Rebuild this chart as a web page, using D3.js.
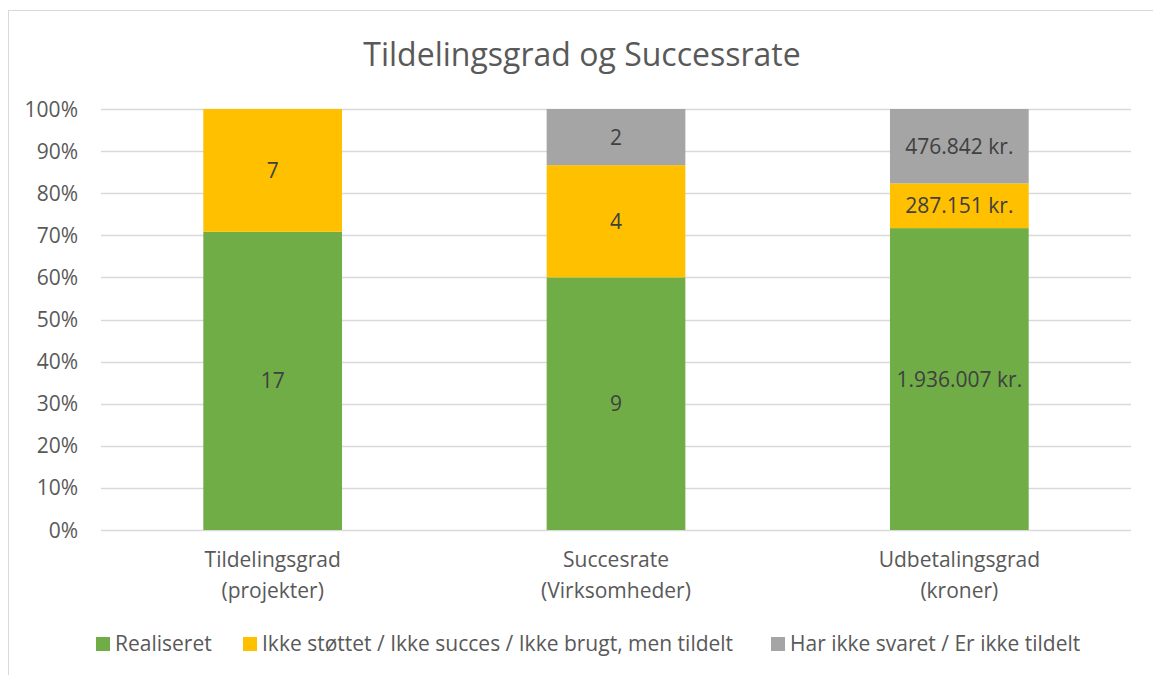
<!DOCTYPE html>
<html><head><meta charset="utf-8">
<script src="https://cdn.jsdelivr.net/npm/d3@7"></script>
<style>
html,body{margin:0;padding:0;background:#fff;}
svg{display:block;font-family:"Open Sans",sans-serif;}
</style></head>
<body>
<svg id="chart" width="1153" height="675"></svg>
<script>
const title = "Tildelingsgrad og Successrate";
const categories = [["Tildelingsgrad","(projekter)"],["Succesrate","(Virksomheder)"],["Udbetalingsgrad","(kroner)"]];
const seriesNames = ["Realiseret","Ikke støttet / Ikke succes / Ikke brugt, men tildelt","Har ikke svaret / Er ikke tildelt"];
const seriesColors = ["#70ad47","#ffc000","#a5a5a5"];
const realiseret = [17, 9, 1936007];
const ikkeStottet = [7, 4, 287151];
const harIkkeSvaret = [0, 2, 476842];
const labelSuffix = ["", "", " kr."];
const yTicks = [0,0.1,0.2,0.3,0.4,0.5,0.6,0.7,0.8,0.9,1.0];

(function(){
const svg = d3.select("#chart");
svg.append("rect").attr("x",8.5).attr("y",10.5).attr("width",1160).attr("height",680)
  .attr("fill","#fff").attr("stroke","#d9d9d9").attr("stroke-width",1);

const pLeft=101, pRight=1131, pTop=109, pBottom=530;
const x = d3.scaleBand().domain(d3.range(categories.length)).range([pLeft,pRight]).paddingInner(0.596).paddingOuter(0.298);
const y = d3.scaleLinear().domain([0,1]).range([pBottom,pTop]);
const fs = "21px";

svg.append("text").attr("x",582).attr("y",66).attr("text-anchor","middle")
  .attr("font-size","32px").attr("fill","#595959").text(title);

svg.append("g").selectAll("line").data(yTicks).join("line")
  .attr("x1",pLeft).attr("x2",pRight).attr("y1",d=>Math.round(y(d))+0.5).attr("y2",d=>Math.round(y(d))+0.5)
  .attr("stroke","#d9d9d9").attr("stroke-width",1.5);

const fmt = d3.format(".0%");
svg.append("g").selectAll("text").data(yTicks).join("text")
  .attr("x",78).attr("y",d=>y(d)+7.5).attr("text-anchor","end")
  .attr("font-size",fs).attr("fill","#595959").text(d=>fmt(d));

const rows = categories.map((c,i)=>({i, s0:realiseret[i], s1:ikkeStottet[i], s2:harIkkeSvaret[i]}));
const stack = d3.stack().keys(["s0","s1","s2"]).offset(d3.stackOffsetExpand);
const layers = stack(rows);

layers.forEach((layer,k)=>{
  const g = svg.append("g");
  layer.forEach((d,i)=>{
    if (d[1]-d[0] <= 0) return;
    g.append("rect").attr("x",x(i)).attr("width",x.bandwidth())
      .attr("y",y(d[1])).attr("height",y(d[0])-y(d[1]))
      .attr("fill",seriesColors[k]);
    const v = d.data[layer.key];
    const txt = d3.format(",")(v).replace(/,/g,".")+labelSuffix[i];
    g.append("text").attr("x",x(i)+x.bandwidth()/2).attr("y",(y(d[0])+y(d[1]))/2+7.5)
      .attr("text-anchor","middle").attr("font-size",fs).attr("fill","#404040").text(txt);
  });
});

categories.forEach((c,i)=>{
  c.forEach((line,j)=>{
    svg.append("text").attr("x",x(i)+x.bandwidth()/2).attr("y",567+j*31)
      .attr("text-anchor","middle").attr("font-size",fs).attr("fill","#595959").text(line);
  });
});

const legendX = [96, 243, 771];
seriesNames.forEach((n,k)=>{
  svg.append("rect").attr("x",legendX[k]).attr("y",637).attr("width",14).attr("height",14).attr("fill",seriesColors[k]);
  svg.append("text").attr("x",legendX[k]+19).attr("y",651).attr("font-size",fs).attr("fill","#595959").text(n);
});
})();
</script>
</body></html>
